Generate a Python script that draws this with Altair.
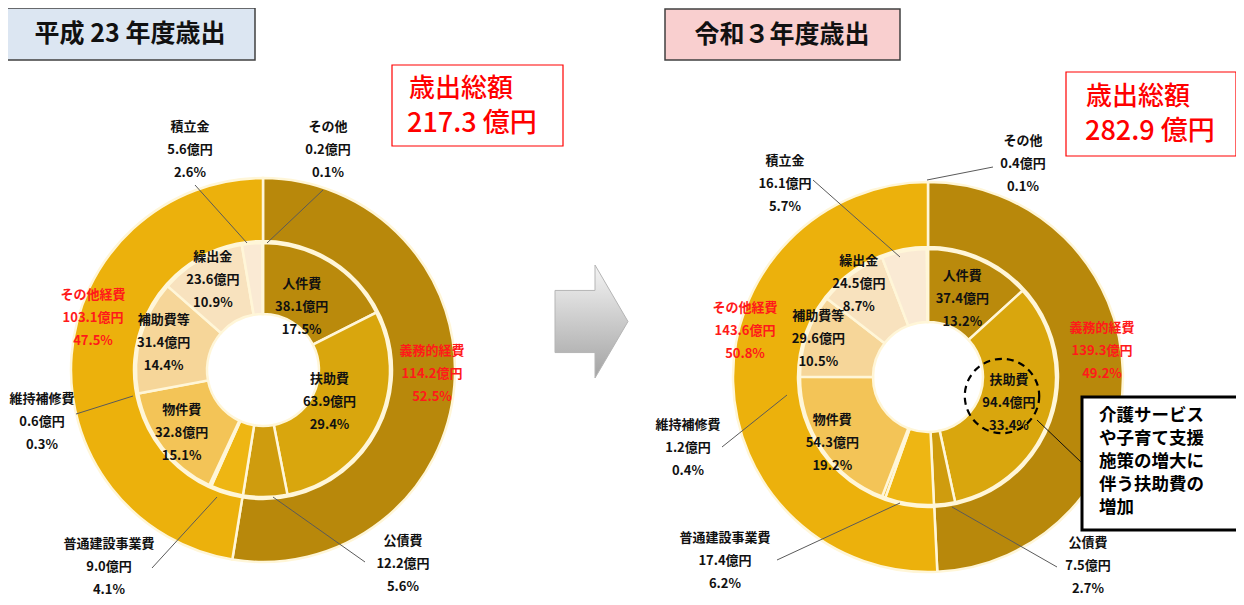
import math
import altair as alt
import pandas as pd

# ---------------- data ----------------
inner_cats = ["人件費", "扶助費", "公債費", "普通建設事業費", "維持補修費",
              "物件費", "補助費等", "繰出金", "積立金", "その他"]
h23_inner = [38.1, 63.9, 12.2, 9.0, 0.6, 32.8, 31.4, 23.6, 5.6, 0.2]
h23_inner_pct = [17.5, 29.4, 5.6, 4.1, 0.3, 15.1, 14.4, 10.9, 2.6, 0.1]
r3_inner = [37.4, 94.4, 7.5, 17.4, 1.2, 54.3, 29.6, 24.5, 16.1, 0.4]
r3_inner_pct = [13.2, 33.4, 2.7, 6.2, 0.4, 19.2, 10.5, 8.7, 5.7, 0.1]

outer_cats = ["義務的経費", "その他経費"]
h23_outer = [114.2, 103.1]
h23_outer_pct = [52.5, 47.5]
r3_outer = [139.3, 143.6]
r3_outer_pct = [49.2, 50.8]

years = ["平成 23 年度歳出", "令和３年度歳出"]
totals = [217.3, 282.9]
inside_labelled = ["人件費", "扶助費", "物件費", "補助費等", "繰出金"]

cat_colors = {
    "義務的経費": "#B8880B", "その他経費": "#ECB10C",
    "人件費": "#BA8A0C", "扶助費": "#D9A60D", "公債費": "#CF9C0E",
    "普通建設事業費": "#EEB613", "維持補修費": "#F0BC2A", "物件費": "#F3C457",
    "補助費等": "#F6D699", "繰出金": "#F8E2BE", "積立金": "#FAEAD4", "その他": "#FCF2E4",
}

FONT = "Noto Sans CJK JP"
OFF = 8  # page margin
LH = 23  # label line height
FS = 13


def px(v):
    return v - OFF


def ring_frame(cats, vals, pcts):
    tot = sum(vals)
    rows, cum = [], 0.0
    for c, v, p in zip(cats, vals, pcts):
        s = cum / tot
        cum += v
        e = cum / tot
        rows.append({"cat": c, "value": v, "pct": p, "start": s, "end": e,
                     "mid": (s + e) / 2,
                     "label": f"{c}\n{v:.1f}億円\n{p:.1f}%"})
    return pd.DataFrame(rows)


theta_scale = alt.Scale(domain=[0, 1], range=[0, 2 * math.pi])
color_scale = alt.Scale(domain=list(cat_colors.keys()), range=list(cat_colors.values()))

dummy = pd.DataFrame({"d": [0]})


def donut(cats_in, vals_in, pct_in, vals_out, pct_out, cx, cy, r_out, r_mid, r_hole,
          lab_r_right, lab_r_left):
    inner = ring_frame(cats_in, vals_in, pct_in)
    outer = ring_frame(outer_cats, vals_out, pct_out)
    center = dict(x=alt.value(px(cx)), y=alt.value(px(cy)))
    outer_arc = alt.Chart(outer).mark_arc(
        radius=r_out, radius2=r_mid + 2, stroke="#FFF6D8", strokeWidth=2.5
    ).encode(
        theta=alt.Theta("start:Q", scale=theta_scale, stack=False),
        theta2="end:Q",
        color=alt.Color("cat:N", scale=color_scale, legend=None),
        **center,
    )
    inner_arc = alt.Chart(inner).mark_arc(
        radius=r_mid, radius2=r_hole, stroke="#FFF6D8", strokeWidth=2.5
    ).encode(
        theta=alt.Theta("start:Q", scale=theta_scale, stack=False),
        theta2="end:Q",
        color=alt.Color("cat:N", scale=color_scale, legend=None),
        **center,
    )
    out = [outer_arc, inner_arc]
    # inside labels: right half of the ring and left half at their own radius
    for cond, rr in [("datum.mid < 0.5", lab_r_right), ("datum.mid >= 0.5", lab_r_left)]:
        out.append(alt.Chart(inner).transform_filter(
            alt.FieldOneOfPredicate(field="cat", oneOf=inside_labelled)
        ).transform_filter(cond).mark_text(
            font=FONT, fontSize=FS, fontWeight="bold", lineBreak="\n", lineHeight=LH,
            align="center", baseline="middle", color="#111111", dy=-LH
        ).encode(
            theta=alt.Theta("mid:Q", scale=theta_scale, stack=False),
            radius=alt.value(rr),
            text="label:N",
            **center,
        ))
    return out


def text(x, y, s, size=FS, color="#111111", weight="bold", align="center",
         lh=LH):
    # y is the vertical centre of the whole block of lines
    n = s.count("\n") + 1
    y0 = y - (n - 1) * lh / 2
    return alt.Chart(dummy).mark_text(
        text=s, font=FONT, fontSize=size, fontWeight=weight, color=color,
        align=align, baseline="middle", lineBreak="\n", lineHeight=lh
    ).encode(x=alt.value(px(x)), y=alt.value(px(y0)))


def line(x1, y1, x2, y2, color="#5A5A5A", w=1.0):
    return alt.Chart(dummy).mark_rule(color=color, strokeWidth=w).encode(
        x=alt.value(px(x1)), y=alt.value(px(y1)),
        x2=alt.value(px(x2)), y2=alt.value(px(y2)))


def box(x1, y1, x2, y2, fill, stroke, w):
    return alt.Chart(dummy).mark_rect(fill=fill, stroke=stroke, strokeWidth=w, opacity=1).encode(
        x=alt.value(px(x1)), y=alt.value(px(y1)),
        x2=alt.value(px(x2)), y2=alt.value(px(y2)))


def small_label(cats, vals, pcts, name):
    i = cats.index(name)
    return f"{name}\n{vals[i]:.1f}億円\n{pcts[i]:.1f}%"


layers = []
layers += donut(inner_cats, h23_inner, h23_inner_pct, h23_outer, h23_outer_pct,
                263, 370, 192, 127, 56, 74, 103)
layers += donut(inner_cats, r3_inner, r3_inner_pct, r3_outer, r3_outer_pct,
                928, 377, 195, 128, 55, 85, 116)

# leader lines
for seg in [(195, 185, 247, 243), (323, 190, 267, 243), (76, 414, 133, 396),
            (152, 568, 217, 497), (365, 562, 273, 497),
            (813, 180, 900, 257), (993, 167, 927, 180), (722, 447, 787, 395),
            (777, 560, 900, 503), (1057, 567, 952, 507)]:
    layers.append(line(*seg))

RED = "#FF1A1A"
# outside labels, left
layers.append(text(190, 150, small_label(inner_cats, h23_inner, h23_inner_pct, "積立金")))
layers.append(text(328, 150, small_label(inner_cats, h23_inner, h23_inner_pct, "その他")))
layers.append(text(42, 422, small_label(inner_cats, h23_inner, h23_inner_pct, "維持補修費")))
layers.append(text(109, 567, small_label(inner_cats, h23_inner, h23_inner_pct, "普通建設事業費")))
layers.append(text(403, 564, small_label(inner_cats, h23_inner, h23_inner_pct, "公債費")))
layers.append(text(432, 374, small_label(outer_cats, h23_outer, h23_outer_pct, "義務的経費"), color=RED))
layers.append(text(93, 318, small_label(outer_cats, h23_outer, h23_outer_pct, "その他経費"), color=RED))

# outside labels, right
layers.append(text(785, 184, small_label(inner_cats, r3_inner, r3_inner_pct, "積立金")))
layers.append(text(1023, 164, small_label(inner_cats, r3_inner, r3_inner_pct, "その他")))
layers.append(text(688, 448, small_label(inner_cats, r3_inner, r3_inner_pct, "維持補修費")))
layers.append(text(725, 561, small_label(inner_cats, r3_inner, r3_inner_pct, "普通建設事業費")))
layers.append(text(1088, 566, small_label(inner_cats, r3_inner, r3_inner_pct, "公債費")))
layers.append(text(1102, 351, small_label(outer_cats, r3_outer, r3_outer_pct, "義務的経費"), color=RED))
layers.append(text(745, 331, small_label(outer_cats, r3_outer, r3_outer_pct, "その他経費"), color=RED))

# title boxes
layers.append(box(6, 8, 255, 60, "#DCE6F2", "#404040", 1.5))
layers.append(text(130, 34, years[0], size=25))
layers.append(box(665, 9, 900, 60, "#F9CFCF", "#404040", 1.5))
layers.append(text(782, 35, years[1], size=25))

# total boxes
layers.append(box(392, 65, 563, 146, "white", "#FF0000", 1.2))
layers.append(text(409, 89, "歳出総額", size=26, color="#FF0000", weight=500, align="left"))
layers.append(text(407, 124, f"{totals[0]:.1f} 億円", size=27, color="#FF0000", weight=500, align="left"))
layers.append(box(1066, 72, 1236, 156, "white", "#FF0000", 1.2))
layers.append(text(1086, 97, "歳出総額", size=26, color="#FF0000", weight=500, align="left"))
layers.append(text(1085, 132, f"{totals[1]:.1f} 億円", size=27, color="#FF0000", weight=500, align="left"))

# arrow
arrow_path = ("M -0.646 -0.55 L 0.062 -0.55 L 0.062 -1 L 0.646 0 "
              "L 0.062 1 L 0.062 0.55 L -0.646 0.55 Z")
grad = alt.LinearGradient(
    gradient="linear", x1=0, x2=0, y1=0, y2=1,
    stops=[alt.GradientStop(color="#F4F4F4", offset=0),
           alt.GradientStop(color="#A3A3A3", offset=1)])
layers.append(alt.Chart(dummy).mark_point(
    shape=arrow_path, size=113 * 113, filled=True, fill=grad, opacity=1,
    stroke="#B5B5B5", strokeWidth=1
).encode(x=alt.value(px(591.5)), y=alt.value(px(321.5))))

# callout
layers.append(alt.Chart(dummy).mark_point(
    shape="circle", size=math.pi * 42 * 42, filled=False, opacity=1,
    stroke="black", strokeWidth=2.2, strokeDash=[7, 5]
).encode(x=alt.value(px(1002)), y=alt.value(px(396))))
layers.append(line(1037, 420, 1082, 463, color="#111111", w=1))
layers.append(box(1082, 397, 1240, 530, "white", "black", 3))
layers.append(text(1099, 462, "介護サービス\nや子育て支援\n施策の増大に\n伴う扶助費の\n増加",
                   size=17.5, color="black", align="left", lh=23))

chart = alt.layer(*layers).properties(
    width=1228, height=589, padding=0,
    autosize=alt.AutoSizeParams(type="none"),
).configure_view(stroke=None)

chart.save("out.html", embed_options={"renderer": "svg", "actions": False})
